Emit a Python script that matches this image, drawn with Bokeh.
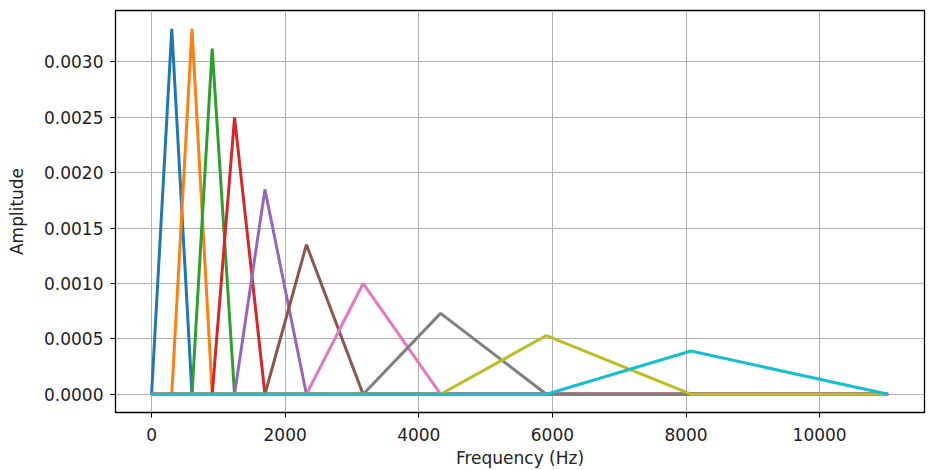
from bokeh.plotting import figure
from bokeh.models import FixedTicker, PrintfTickFormatter, Range1d
from bokeh.embed import file_html
from bokeh.resources import INLINE

# Filter edge frequencies (Hz): left edge, peak, right edge of each triangle
edges_hz = [0, 302.5, 605.0, 907.6, 1242, 1697, 2318, 3167, 4326, 5910, 8074, 11025]
# Peak amplitudes of the 10 filters
peaks = [0.00330, 0.00330, 0.00312, 0.00250, 0.00185, 0.00135, 0.00100, 0.00073, 0.00053, 0.00039]
colors = ["#1f77b4", "#ff7f0e", "#2ca02c", "#d62728", "#9467bd",
          "#8c564b", "#e377c2", "#7f7f7f", "#bcbd22", "#17becf"]
x_ticks = [0, 2000, 4000, 6000, 8000, 10000]
y_ticks = [0.0, 0.0005, 0.0010, 0.0015, 0.0020, 0.0025, 0.0030]

f_min, f_max = edges_hz[0], edges_hz[-1]

p = figure(width=950, height=470, output_backend="svg", toolbar_location=None,
           x_range=Range1d(-540, 11570), y_range=Range1d(-0.000165, 0.003465),
           min_border_left=115, min_border_right=26, min_border_top=10, min_border_bottom=58)

for i in range(len(peaks)):
    xs = [f_min, edges_hz[i], edges_hz[i + 1], edges_hz[i + 2], f_max]
    ys = [0, 0, peaks[i], 0, 0]
    p.line(xs, ys, line_color=colors[i], line_width=3)

p.outline_line_color = "black"
p.outline_line_width = 1.3
p.background_fill_color = "white"
p.border_fill_color = "white"

p.xaxis.ticker = FixedTicker(ticks=x_ticks)
p.yaxis.ticker = FixedTicker(ticks=y_ticks)
p.yaxis.formatter = PrintfTickFormatter(format="%.4f")
p.xaxis.axis_label = "Frequency (Hz)"
p.yaxis.axis_label = "Amplitude"

for ax in (p.xaxis, p.yaxis):
    ax.axis_line_color = None
    ax.major_tick_line_color = "black"
    ax.major_tick_out = 5
    ax.major_tick_in = 0
    ax.minor_tick_line_color = None
    ax.major_label_text_font = "DejaVu Sans"
    ax.major_label_text_font_size = "17px"
    ax.major_label_text_color = "#222222"
    ax.axis_label_text_font = "DejaVu Sans"
    ax.axis_label_text_font_size = "17px"
    ax.axis_label_text_font_style = "normal"
    ax.axis_label_text_color = "#222222"

p.xaxis.major_label_standoff = 10
p.yaxis.major_label_standoff = 7
p.xaxis.axis_label_standoff = 4
p.yaxis.axis_label_standoff = 14

p.grid.grid_line_color = "#b0b0b0"
p.grid.grid_line_width = 1

open("out.html", "w").write(file_html(p, INLINE))
